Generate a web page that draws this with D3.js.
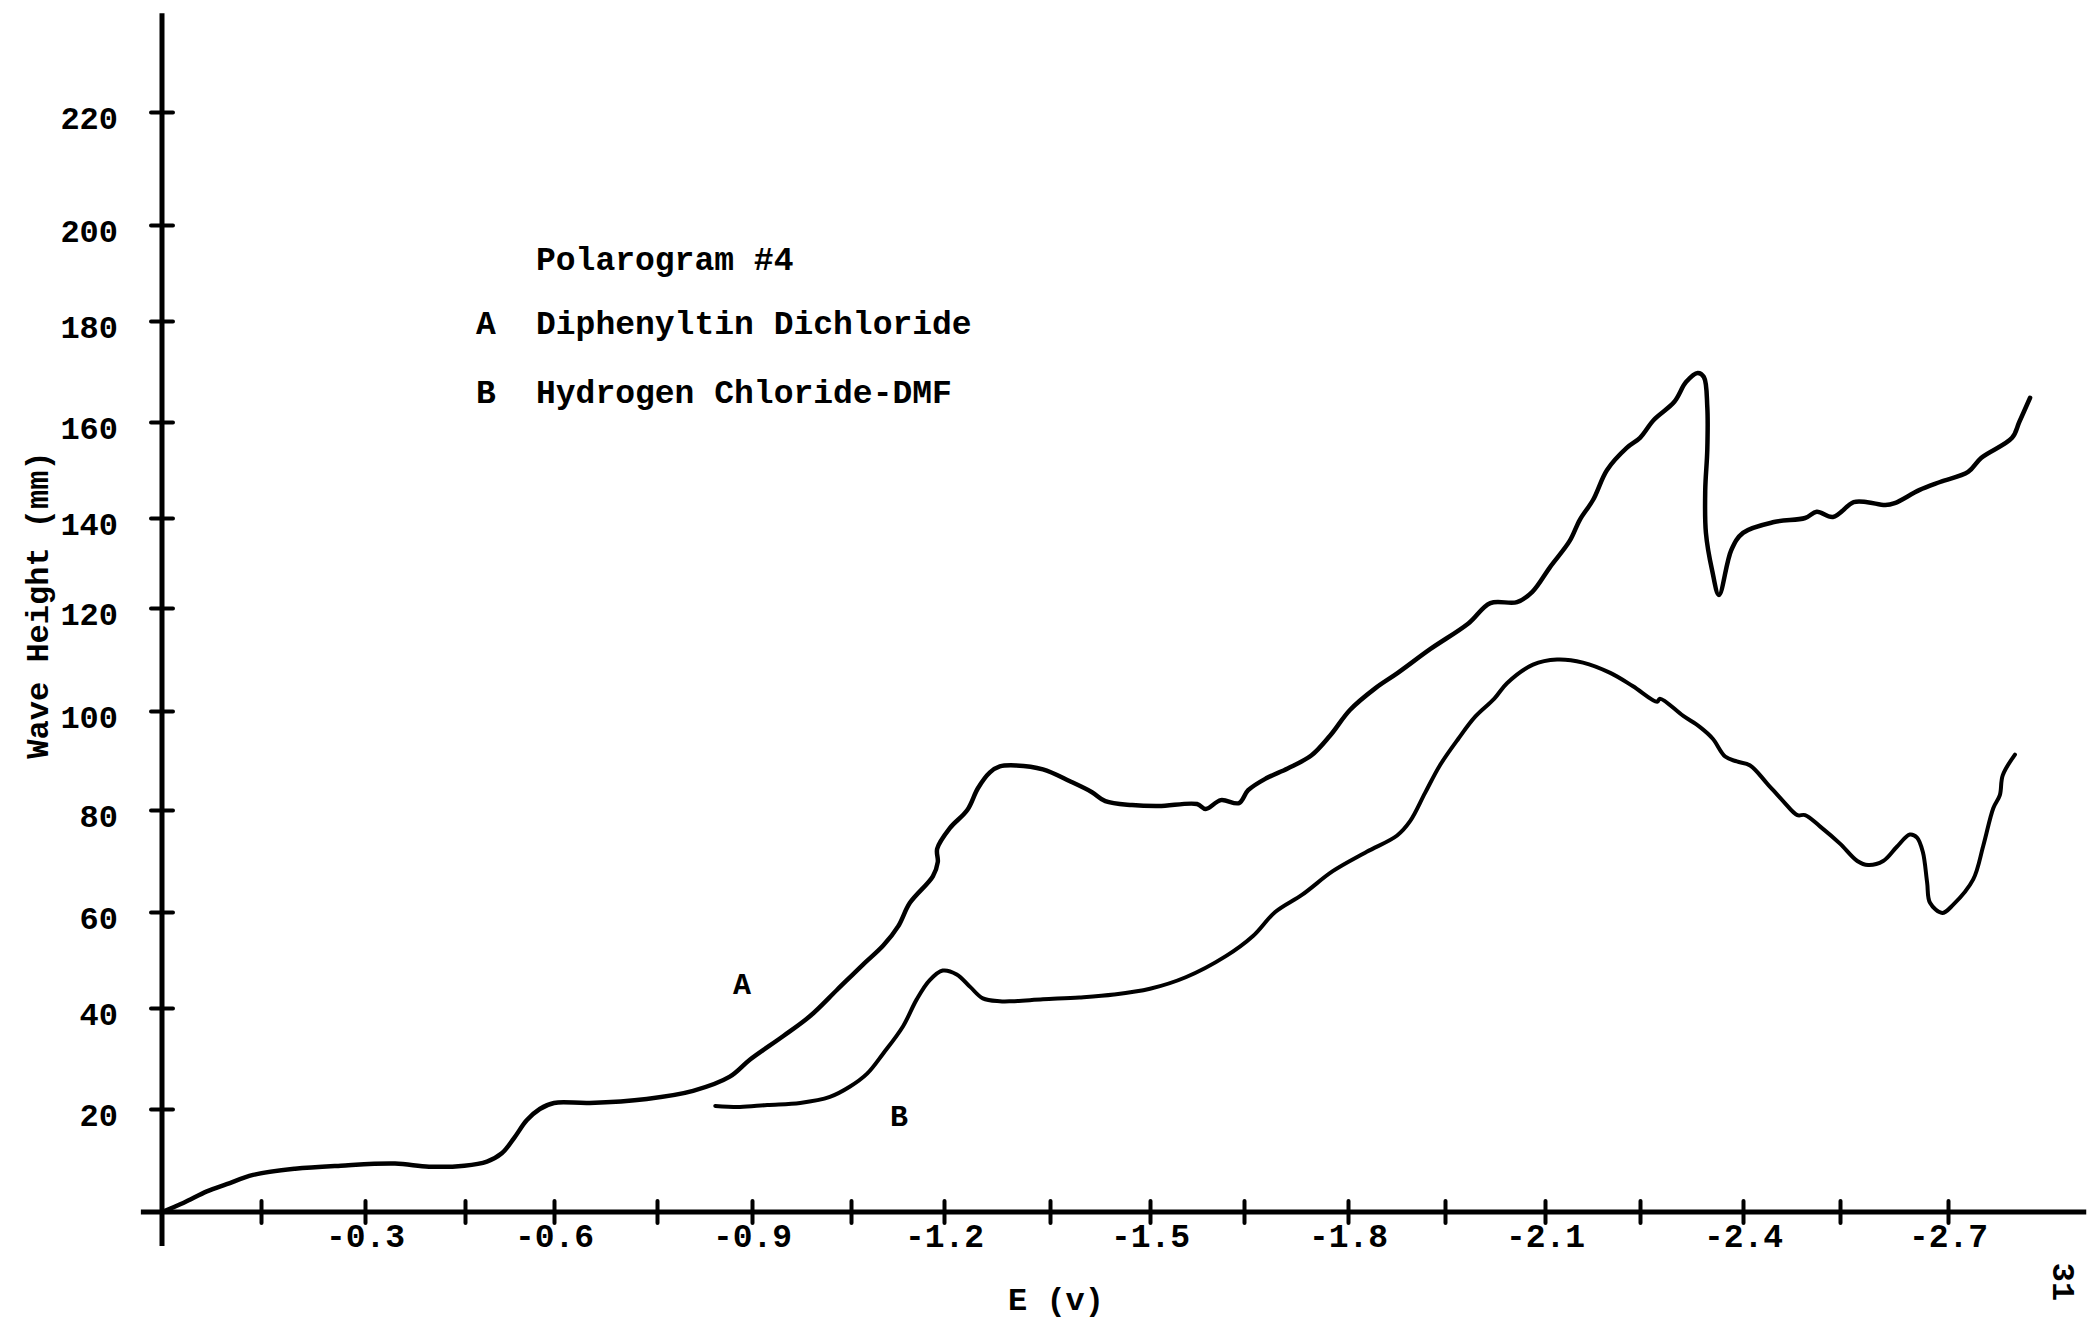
<!DOCTYPE html>
<html>
<head>
<meta charset="utf-8">
<script src="https://cdn.jsdelivr.net/npm/d3@7"></script>
<style>
  html, body { margin: 0; padding: 0; background: #fff; }
  svg text { font-family: "Liberation Mono", "Courier New", monospace; font-weight: bold; fill: #000; }
</style>
</head>
<body>
<div id="chart"></div>
<script>
// Polarogram #4: wave height (mm) against potential E (v), traces A and B

const curveAE = [0, -0.033, -0.068, -0.098, -0.138, -0.199, -0.265, -0.345, -0.396, -0.449,
  -0.487, -0.512, -0.533, -0.554, -0.576, -0.600, -0.652, -0.735, -0.807, -0.865,
  -0.897, -0.947, -0.988, -1.029, -1.069, -1.102, -1.126, -1.145, -1.182, -1.190,
  -1.189, -1.208, -1.233, -1.248, -1.265, -1.279, -1.302, -1.340, -1.380, -1.413,
  -1.433, -1.473, -1.514, -1.575, -1.589, -1.613, -1.642, -1.656, -1.682, -1.713,
  -1.747, -1.774, -1.803, -1.842, -1.877, -1.927, -1.985, -2.018, -2.058, -2.081,
  -2.108, -2.139, -2.155, -2.176, -2.198, -2.229, -2.250, -2.270, -2.300, -2.317,
  -2.334, -2.343, -2.348, -2.348, -2.345, -2.346, -2.355, -2.365, -2.383, -2.400,
  -2.448, -2.496, -2.514, -2.539, -2.569, -2.588, -2.613, -2.626, -2.660, -2.689,
  -2.728, -2.746, -2.789, -2.799, -2.814];
const curveAV = [0, 1.8, 4.0, 5.4, 7.2, 8.4, 9.0, 9.4, 8.8, 9.0,
  9.8, 11.4, 14.4, 17.8, 20.0, 21.2, 21.2, 22.0, 23.6, 26.4,
  29.8, 34.4, 38.4, 43.8, 49.0, 53.0, 57.0, 61.8, 67.0, 69.8,
  72.4, 76.4, 80.0, 84.4, 87.6, 88.8, 89.0, 88.2, 85.8, 83.6,
  81.8, 81.0, 80.8, 81.2, 80.2, 82.0, 81.4, 84.0, 86.4, 88.4,
  91.0, 95.0, 100.2, 104.4, 107.4, 112.0, 117.0, 121.1, 121.3, 123.6,
  129.1, 134.9, 139.6, 143.8, 150.0, 154.6, 156.7, 160.4, 164.0, 167.9,
  169.7, 168.9, 163.0, 154.2, 145.8, 136.7, 128.4, 122.9, 132.9, 136.7,
  139.1, 140.0, 141.3, 140.2, 143.3, 143.3, 142.7, 143.1, 145.8, 147.5,
  149.6, 152.5, 156.7, 160.0, 164.8];

const curveBE = [-0.842, -0.881, -0.923, -0.973, -1.018, -1.048, -1.076, -1.102, -1.134, -1.156,
  -1.177, -1.198, -1.218, -1.237, -1.255, -1.279, -1.296, -1.340, -1.394, -1.446,
  -1.500, -1.557, -1.621, -1.663, -1.695, -1.734, -1.778, -1.829, -1.876, -1.896,
  -1.919, -1.942, -1.970, -1.995, -2.024, -2.043, -2.082, -2.119, -2.160, -2.203,
  -2.239, -2.275, -2.279, -2.313, -2.337, -2.356, -2.374, -2.391, -2.411, -2.437,
  -2.462, -2.484, -2.496, -2.519, -2.550, -2.574, -2.589, -2.610, -2.629, -2.647,
  -2.657, -2.665, -2.671, -2.675, -2.692, -2.707, -2.735, -2.749, -2.763, -2.772,
  -2.776, -2.793];
const curveBV = [20.6, 20.4, 20.8, 21.2, 22.4, 24.4, 27.0, 31.0, 36.4, 41.8,
  45.8, 47.8, 47.0, 44.4, 42.0, 41.4, 41.4, 41.8, 42.2, 42.8,
  44.0, 46.4, 50.8, 55.0, 60.0, 63.4, 68.0, 71.8, 75.0, 77.8,
  83.4, 89.0, 94.4, 98.8, 102.4, 105.4, 109.0, 110.0, 109.4, 107.4,
  104.8, 101.8, 102.4, 99.0, 96.8, 94.4, 90.8, 89.8, 89.0, 85.4,
  81.8, 79.0, 79.0, 76.8, 73.4, 70.0, 69.2, 70.0, 72.8, 75.2,
  74.6, 71.8, 65.8, 61.8, 59.8, 61.4, 66.4, 73.0, 80.4, 83.0,
  87.0, 91.2];

const xTicks = [-0.15, -0.3, -0.45, -0.6, -0.75, -0.9, -1.05, -1.2, -1.35,
  -1.5, -1.65, -1.8, -1.95, -2.1, -2.25, -2.4, -2.55, -2.7];
const xTickLabels = ["", "-0.3", "", "-0.6", "", "-0.9", "", "-1.2", "",
  "-1.5", "", "-1.8", "", "-2.1", "", "-2.4", "", "-2.7"];
const yTicks = [20, 40, 60, 80, 100, 120, 140, 160, 180, 200, 220];

const legendTitle = "Polarogram #4";
const seriesKeys = ["A", "B"];
const seriesNames = ["Diphenyltin Dichloride", "Hydrogen Chloride-DMF"];
const xTitle = "E (v)";
const yTitle = "Wave Height (mm)";
const pageNumber = "31";

const width = 2091, height = 1320;

const svg = d3.select("#chart").append("svg")
  .attr("width", width)
  .attr("height", height)
  .style("display", "block")
  .style("background", "#fff");

// the paper grid was ruled by hand, so tick spacing is slightly uneven:
// piecewise scales follow the drawn tick marks
const x = d3.scaleLinear()
  .domain([0, -0.15, -0.3, -0.45, -0.6, -0.75, -0.9, -1.05, -1.2, -1.35,
    -1.5, -1.65, -1.8, -1.95, -2.1, -2.25, -2.4, -2.55, -2.7])
  .range([162, 261, 365, 465, 554, 657, 752, 851, 944, 1050,
    1150, 1244, 1348, 1445, 1545, 1640, 1743, 1840, 1948]);
const y = d3.scaleLinear()
  .domain([0, 20, 40, 60, 80, 100, 120, 140, 160, 180, 200, 220])
  .range([1212, 1109, 1008, 912, 810, 711, 608, 518, 422, 321, 225, 112]);

// axis lines (they run past the data range)
svg.append("line")
  .attr("x1", x(0.032)).attr("x2", x(-2.892))
  .attr("y1", y(0)).attr("y2", y(0))
  .attr("stroke", "#000").attr("stroke-width", 5);
svg.append("line")
  .attr("x1", x(0)).attr("x2", x(0))
  .attr("y1", y(237.5)).attr("y2", y(-6.6))
  .attr("stroke", "#000").attr("stroke-width", 5);

// x axis ticks + labels
const xAxis = svg.append("g")
  .attr("transform", `translate(0,${y(0)})`)
  .call(d3.axisBottom(x)
    .tickValues(xTicks)
    .tickFormat((d, i) => xTickLabels[i])
    .tickSizeOuter(0));
xAxis.select(".domain").remove();
xAxis.selectAll(".tick line")
  .attr("y1", -11).attr("y2", 11)
  .attr("stroke", "#000").attr("stroke-width", 4)
  .attr("stroke-linecap", "round");
xAxis.selectAll(".tick text")
  .attr("y", 35).attr("dy", 0)
  .style("font-size", "33px")
  .style("font-family", "'Liberation Mono', monospace")
  .style("font-weight", "bold");

// y axis ticks + labels
const yAxis = svg.append("g")
  .attr("transform", `translate(${x(0)},0)`)
  .call(d3.axisLeft(y).tickValues(yTicks).tickFormat(d3.format("d")).tickSizeOuter(0));
yAxis.select(".domain").remove();
yAxis.selectAll(".tick line")
  .attr("x1", -11).attr("x2", 11)
  .attr("stroke", "#000").attr("stroke-width", 4)
  .attr("stroke-linecap", "round");
yAxis.selectAll(".tick text")
  .attr("x", -44).attr("dy", "0.52em")
  .style("font-size", "32px")
  .style("font-family", "'Liberation Mono', monospace")
  .style("font-weight", "bold");

// traces
const line = d3.line()
  .x(d => x(d[0]))
  .y(d => y(d[1]))
  .curve(d3.curveCatmullRom.alpha(0.5));

const traceA = curveAE.map((e, i) => [e, curveAV[i]]);
const traceB = curveBE.map((e, i) => [e, curveBV[i]]);

svg.append("path")
  .datum(traceA)
  .attr("d", line)
  .attr("fill", "none")
  .attr("stroke", "#000")
  .attr("stroke-width", 4.5)
  .attr("stroke-linejoin", "round")
  .attr("stroke-linecap", "round");

svg.append("path")
  .datum(traceB)
  .attr("d", line)
  .attr("fill", "none")
  .attr("stroke", "#000")
  .attr("stroke-width", 4)
  .attr("stroke-linejoin", "round")
  .attr("stroke-linecap", "round");

// curve tags next to the traces
svg.append("text")
  .attr("x", 742).attr("y", 994)
  .attr("text-anchor", "middle")
  .style("font-size", "30px")
  .text(seriesKeys[0]);
svg.append("text")
  .attr("x", 899).attr("y", 1126)
  .attr("text-anchor", "middle")
  .style("font-size", "30px")
  .text(seriesKeys[1]);

// legend block
const legend = svg.append("g").style("font-size", "33px");
legend.append("text").attr("x", 536).attr("y", 270).text(legendTitle);
seriesKeys.forEach((k, i) => {
  legend.append("text").attr("x", 476).attr("y", 334 + i * 69).text(k);
  legend.append("text").attr("x", 536).attr("y", 334 + i * 69).text(seriesNames[i]);
});

// axis titles
svg.append("text")
  .attr("x", 1056).attr("y", 1310)
  .attr("text-anchor", "middle")
  .style("font-size", "32px")
  .text(xTitle);

svg.append("text")
  .attr("transform", "translate(48,605) rotate(-90)")
  .attr("text-anchor", "middle")
  .style("font-size", "32px")
  .text(yTitle);

svg.append("text")
  .attr("transform", "translate(2053,1282) rotate(90)")
  .attr("text-anchor", "middle")
  .style("font-size", "32px")
  .text(pageNumber);
</script>
</body>
</html>
